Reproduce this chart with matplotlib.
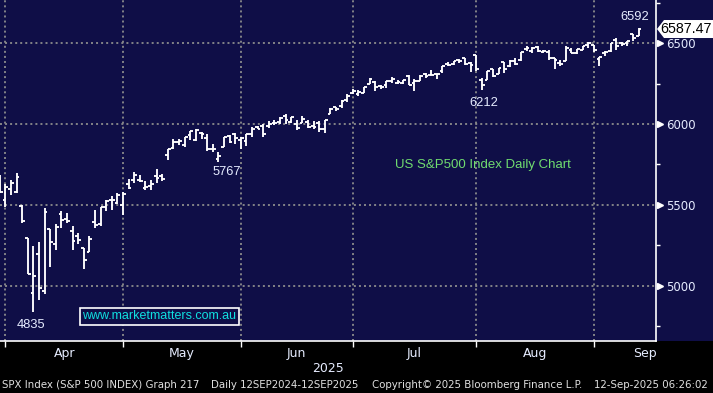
import matplotlib
matplotlib.use('Agg')
import matplotlib.pyplot as plt
from matplotlib.patches import Rectangle, Polygon
from matplotlib.transforms import blended_transform_factory
import numpy as np

# daily OHLC, S&P 500, 28 Mar 2025 - 11 Sep 2025
days = ['03-28', '03-31',
        '04-01', '04-02', '04-03', '04-04', '04-07', '04-08', '04-09', '04-10', '04-11',
        '04-14', '04-15', '04-16', '04-17', '04-21', '04-22', '04-23', '04-24', '04-25',
        '04-28', '04-29', '04-30',
        '05-01', '05-02', '05-05', '05-06', '05-07', '05-08', '05-09', '05-12', '05-13',
        '05-14', '05-15', '05-16', '05-19', '05-20', '05-21', '05-22', '05-23', '05-27',
        '05-28', '05-29', '05-30',
        '06-02', '06-03', '06-04', '06-05', '06-06', '06-09', '06-10', '06-11', '06-12',
        '06-13', '06-16', '06-17', '06-18', '06-20', '06-23', '06-24', '06-25', '06-26',
        '06-27', '06-30',
        '07-01', '07-02', '07-03', '07-07', '07-08', '07-09', '07-10', '07-11', '07-14',
        '07-15', '07-16', '07-17', '07-18', '07-21', '07-22', '07-23', '07-24', '07-25',
        '07-28', '07-29', '07-30', '07-31',
        '08-01', '08-04', '08-05', '08-06', '08-07', '08-08', '08-11', '08-12', '08-13',
        '08-14', '08-15', '08-18', '08-19', '08-20', '08-21', '08-22', '08-25', '08-26',
        '08-27', '08-28', '08-29',
        '09-02', '09-03', '09-04', '09-05', '09-08', '09-09', '09-10', '09-11']

opens = [5679, 5527,
         5597, 5580, 5492, 5292, 4954, 5194, 4965, 5353, 5255,
         5441, 5411, 5335, 5305, 5232, 5207, 5396, 5381, 5489,
         5529, 5509, 5500,
         5626, 5655, 5655, 5606, 5614, 5680, 5679, 5808, 5854,
         5891, 5870, 5929, 5902, 5944, 5911, 5842, 5782, 5855,
         5926, 5939, 5903,
         5897, 5939, 5979, 5985, 5987, 6005, 6010, 6050, 6010,
         5997, 6004, 6012, 5987, 6004, 5969, 6061, 6105, 6113,
         6151, 6194,
         6187, 6194, 6246, 6260, 6233, 6241, 6268, 6256, 6255,
         6296, 6256, 6264, 6312, 6304, 6307, 6326, 6369, 6371,
         6397, 6409, 6375, 6428,
         6271, 6272, 6337, 6310, 6381, 6359, 6391, 6397, 6461,
         6453, 6479, 6445, 6446, 6406, 6378, 6392, 6457, 6441,
         6457, 6491, 6487,
         6401, 6437, 6454, 6521, 6499, 6499, 6555, 6547]

highs = [5685, 5627,
         5651, 5695, 5500, 5292, 5246, 5267, 5481, 5353, 5381,
         5459, 5450, 5367, 5328, 5232, 5309, 5469, 5489, 5529,
         5553, 5572, 5581,
         5659, 5700, 5683, 5649, 5654, 5720, 5692, 5845, 5907,
         5906, 5919, 5959, 5969, 5953, 5938, 5878, 5829, 5922,
         5930, 5944, 5922,
         5937, 5982, 5990, 5999, 6017, 6022, 6043, 6059, 6045,
         6027, 6051, 6023, 6019, 6018, 6025, 6101, 6108, 6146,
         6187, 6216,
         6211, 6227, 6285, 6263, 6243, 6266, 6290, 6270, 6274,
         6302, 6276, 6303, 6315, 6336, 6310, 6359, 6382, 6390,
         6402, 6410, 6385, 6428,
         6287, 6330, 6340, 6349, 6384, 6396, 6410, 6447, 6481,
         6474, 6482, 6459, 6458, 6407, 6394, 6482, 6467, 6466,
         6485, 6508, 6490,
         6416, 6449, 6503, 6533, 6508, 6516, 6556, 6592]

lows = [5572, 5489,
        5562, 5571, 5390, 5069, 4835, 4910, 4948, 5115, 5220,
        5358, 5386, 5220, 5255, 5101, 5207, 5356, 5371, 5464,
        5468, 5505, 5434,
        5597, 5633, 5640, 5590, 5589, 5636, 5647, 5775, 5846,
        5871, 5856, 5903, 5896, 5908, 5830, 5825, 5767, 5855,
        5884, 5874, 5843,
        5862, 5919, 5967, 5921, 5978, 5994, 6000, 6002, 6004,
        5963, 6004, 5974, 5971, 5952, 5943, 6059, 6080, 6100,
        6133, 6186,
        6175, 6189, 6246, 6202, 6215, 6223, 6251, 6245, 6249,
        6242, 6201, 6263, 6283, 6303, 6281, 6317, 6360, 6364,
        6379, 6364, 6320, 6327,
        6212, 6272, 6289, 6310, 6314, 6355, 6364, 6387, 6450,
        6441, 6445, 6439, 6396, 6343, 6361, 6387, 6439, 6435,
        6457, 6469, 6445,
        6360, 6419, 6446, 6455, 6483, 6485, 6515, 6545]

closes = [5581, 5612,
          5633, 5671, 5397, 5074, 5062, 4983, 5457, 5268, 5363,
          5406, 5397, 5276, 5283, 5158, 5288, 5376, 5485, 5525,
          5529, 5561, 5569,
          5604, 5687, 5650, 5607, 5631, 5664, 5660, 5844, 5887,
          5893, 5917, 5958, 5964, 5940, 5845, 5842, 5803, 5922,
          5889, 5912, 5912,
          5936, 5970, 5971, 5939, 6000, 6006, 6039, 6022, 6045,
          5977, 6033, 5983, 5981, 5968, 6025, 6092, 6092, 6141,
          6173, 6205,
          6198, 6227, 6279, 6230, 6226, 6263, 6280, 6260, 6269,
          6244, 6264, 6297, 6297, 6306, 6310, 6359, 6363, 6389,
          6390, 6371, 6363, 6339,
          6238, 6330, 6299, 6345, 6340, 6389, 6373, 6446, 6467,
          6469, 6450, 6449, 6411, 6396, 6370, 6467, 6439, 6466,
          6481, 6502, 6460,
          6416, 6448, 6502, 6482, 6495, 6513, 6532, 6587]

last_price = 6587.47
month_names = ['Apr', 'May', 'Jun', 'Jul', 'Aug', 'Sep']
y_ticks = [5000, 5500, 6000, 6500]
marks = [('4835', '04-07', 'low', -2, -9),
         ('5767', '05-23', 'low', 6, -7.5),
         ('6212', '08-01', 'low', 1.5, -9.5),
         ('6592', '09-11', 'high', -2.5, 8)]

navy = '#0f0e47'
txt = '#e6ecff'

x = np.arange(len(days)) - 2          # 1 Apr = 0
o = np.array(opens); h = np.array(highs); l = np.array(lows); c = np.array(closes)

# last trading day of each month -> gridline / tick positions
months = [d[:2] for d in days]
bounds = [x[i] for i in range(len(days) - 1) if months[i] != months[i + 1]]
centers = [(bounds[i] + bounds[i + 1]) / 2 for i in range(len(bounds) - 1)]
centers.append(bounds[-1] + 9.2)

W, H = 713, 393
fig = plt.figure(figsize=(W / 100, H / 100), dpi=100)
fig.patch.set_facecolor('black')
fig.patches.append(Rectangle((0, 52 / H), 1, 1, transform=fig.transFigure,
                             facecolor=navy, edgecolor='none', zorder=-5))

ax = fig.add_axes([0, 52 / H, 656 / W, 341 / H])
ax.set_facecolor(navy)
ax.set_xlim(-1.96, 115.1)
ax.set_ylim(4657, 6767)

# OHLC bars
tk = 0.5
ax.vlines(x, l, h, color='white', lw=1.35, zorder=3)
ax.hlines(o, x - tk, x, color='white', lw=1.35, zorder=3)
ax.hlines(c, x, x + tk, color='white', lw=1.35, zorder=3)

# grid
ax.set_axisbelow(True)
ax.set_xticks(bounds)
ax.set_xticklabels([])
ax.set_xticks(centers, minor=True)
ax.set_xticklabels(month_names, minor=True)
ax.tick_params(axis='x', which='major', length=4, width=1, color='white', direction='out')
ax.tick_params(axis='x', which='minor', length=0, pad=4, labelsize=9, labelcolor=txt)
ax.yaxis.tick_right()
ax.set_yticks(y_ticks)
ax.set_yticklabels([str(v) for v in y_ticks])
ax.set_yticks(np.arange(4750, 6800, 500), minor=True)
ax.tick_params(axis='y', which='major', length=0, pad=7, labelsize=8.5, labelcolor=txt)
ax.tick_params(axis='y', which='minor', length=3, width=1, color='white', direction='out')
ax.grid(True, which='major', color='#8c8c8c', lw=1.3, linestyle=(0, (1.1, 1.7)))
for s in ['left', 'top']:
    ax.spines[s].set_visible(False)
ax.spines['right'].set_color('white')
ax.spines['bottom'].set_color('white')
ax.spines['right'].set_linewidth(1.2)
ax.spines['bottom'].set_linewidth(1.2)

# triangle markers at the major y ticks
tr = blended_transform_factory(ax.transAxes, ax.transData)
ax.plot([1 + 3.5 / 656] * len(y_ticks), y_ticks, linestyle='none', marker='>',
        markersize=5, color='white', transform=tr, clip_on=False, zorder=5)

# annotations
for lab, d, kind, dx, dy in marks:
    i = days.index(d)
    yv = l[i] if kind == 'low' else h[i]
    ax.annotate(lab, xy=(x[i], yv), xytext=(dx, dy), textcoords='offset points',
                ha='center', va='center', fontsize=9.3, color=txt,
                family='Liberation Sans', zorder=6)

ax.text(483 / 656, 1 - 165 / 341, 'US S&P500 Index Daily Chart', transform=ax.transAxes,
        ha='center', va='center', fontsize=9.5, color='#70dc70', family='Liberation Sans')
ax.text(159.5 / 656, 1 - 316 / 341, 'www.marketmatters.com.au', transform=ax.transAxes,
        ha='center', va='center', fontsize=9, color='#10e0e0', family='Liberation Sans',
        bbox=dict(boxstyle='square,pad=0.2', fc=navy, ec='white', lw=1.2), zorder=6)

# last price tag
fig.canvas.draw()
ypx = ax.transData.transform((0, last_price))[1]
px = 656
tag = Polygon([(px + 1, ypx), (px + 8, ypx + 9), (W + 2, ypx + 9), (W + 2, ypx - 9),
               (px + 8, ypx - 9)], closed=True, transform=None, facecolor='white',
              edgecolor='none', zorder=7)
fig.patches.append(tag)
fig.text(686 / W, ypx / H, f'{last_price:.2f}', ha='center', va='center',
         fontsize=10.3, color='black', family='Liberation Sans', zorder=8)

# footer
fig.text(328 / W, 1 - 368 / H, '2025', ha='center', va='center', fontsize=9, color=txt)
foot = [(2.5, 'SPX Index (S&P 500 INDEX) Graph 217'),
        (211, 'Daily 12SEP2024-12SEP2025'),
        (372, 'Copyright\u00a9 2025 Bloomberg Finance L.P.'),
        (594, '12-Sep-2025 06:26:02')]
for fx, s in foot:
    fig.text(fx / W, 1 - 385 / H, s, ha='left', va='center', fontsize=8.2,
             color='#e0e0e0', family='DejaVu Sans', stretch='condensed')

fig.savefig('out.png', dpi=100, facecolor='black')
